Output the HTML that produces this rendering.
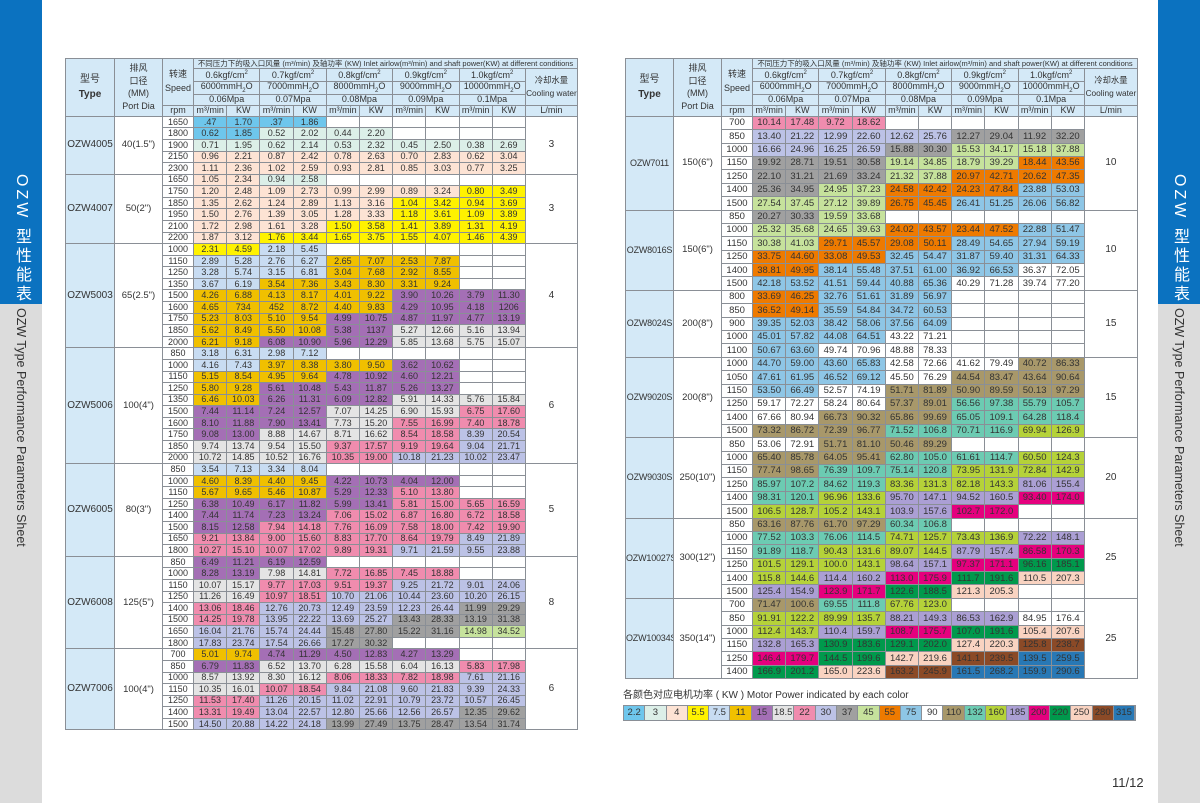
<!DOCTYPE html>
<html><head><meta charset="utf-8">
<style>
*{margin:0;padding:0;box-sizing:border-box}
body{width:1200px;height:803px;background:#fff;position:relative;overflow:hidden;font-family:"Liberation Sans","Noto Sans CJK SC",sans-serif;color:#333}
.band{position:absolute;top:0;width:42px;height:803px;background:#dcdcdc}
.band .blue{position:absolute;left:0;top:0;width:42px;height:304px;background:#0b72c0}
.vt1{position:absolute;left:0;width:42px;bottom:499px;writing-mode:vertical-rl;color:#fff;font-size:16px;line-height:42px;text-align:right;letter-spacing:3px}
.vt2{position:absolute;left:0;width:42px;top:308px;writing-mode:vertical-rl;color:#333;font-size:12.5px;line-height:42px}
table{position:absolute;border-collapse:collapse;table-layout:fixed;top:58px}
td{border:1px solid #8a8f96;text-align:center;vertical-align:middle;white-space:nowrap;overflow:hidden;padding:0;line-height:1}
.h{background:#d4e9f7;font-size:9px;color:#333}
.t{background:#d4e9f7;font-size:10px}
#R .t{font-size:9px;letter-spacing:-0.2px}
#L td.d{font-size:9px}
#R td.d{font-size:9.5px}
.cw{font-size:8.3px!important}
sup,sub{font-size:6px}
</style></head><body>
<div class="band" style="left:0"><div class="blue"></div><div class="vt1">OZW 型性能表</div><div class="vt2">OZW Type Performance Parameters Sheet</div></div>
<div class="band" style="left:1158px"><div class="blue"></div><div class="vt1">OZW 型性能表</div><div class="vt2">OZW Type Performance Parameters Sheet</div></div>
<table id="L" style="left:65px;width:512px"></table>
<table id="R" style="left:625px;width:512px"></table>
<div style="position:absolute;left:623px;top:686px;font-size:10px;color:#333">各颜色对应电机功率 ( KW ) Motor Power indicated by each color</div>
<div id="leg" style="position:absolute;left:623px;top:705px;height:16px;display:flex;border:1px solid #8a8f96"></div>
<div style="position:absolute;left:1112px;top:775px;font-size:13px;color:#333">11/12</div>
<script>
var C={a:'#6ec6ec',b:'#dcefe8',c:'#fde3d4',d:'#fff200',e:'#c8dcf2',f:'#f0c000',g:'#a46fb5',h:'#e4e4e4',i:'#f08cae',j:'#bcc2e6',k:'#a0a0a0',l:'#c6e29c',m:'#ee7a00',n:'#8ec6e6',o:'#ffffff',p:'#a8986a',q:'#6ccbb2',r:'#b5d239',s:'#ab9fd4',t:'#e5007e',u:'#00994c',v:'#f9d3c1',w:'#8b4a27',x:'#2878b5'};
var LG=[['2.2','a'],['3','b'],['4','c'],['5.5','d'],['7.5','e'],['11','f'],['15','g'],['18.5','h'],['22','i'],['30','j'],['37','k'],['45','l'],['55','m'],['75','n'],['90','o'],['110','p'],['132','q'],['160','r'],['185','s'],['200','t'],['220','u'],['250','v'],['280','w'],['315','x']];
var lg=document.getElementById('leg');
LG.forEach(function(z){var s=document.createElement('div');s.style.cssText='width:21.3px;height:14px;font-size:9.5px;line-height:14px;text-align:center;border-right:1px solid #8a8f96;background:'+C[z[1]];s.textContent=z[0];lg.appendChild(s);});
var Ld=[
['OZW4005','40(1.5")','3',['1650|a .47 1.70|a .37 1.86|-|-|-','1800|a 0.62 1.85|b 0.52 2.02|b 0.44 2.20|-|-','1900|b 0.71 1.95|b 0.62 2.14|b 0.53 2.32|b 0.45 2.50|b 0.38 2.69','2150|c 0.96 2.21|c 0.87 2.42|c 0.78 2.63|c 0.70 2.83|c 0.62 3.04','2300|c 1.11 2.36|c 1.02 2.59|c 0.93 2.81|c 0.85 3.03|c 0.77 3.25']],
['OZW4007','50(2")','3',['1650|c 1.05 2.34|b 0.94 2.58|-|-|-','1750|c 1.20 2.48|c 1.09 2.73|c 0.99 2.99|c 0.89 3.24|d 0.80 3.49','1850|c 1.35 2.62|c 1.24 2.89|c 1.13 3.16|d 1.04 3.42|d 0.94 3.69','1950|c 1.50 2.76|c 1.39 3.05|c 1.28 3.33|d 1.18 3.61|d 1.09 3.89','2100|c 1.72 2.98|c 1.61 3.28|d 1.50 3.58|d 1.41 3.89|d 1.31 4.19','2200|c 1.87 3.12|d 1.76 3.44|d 1.65 3.75|d 1.55 4.07|d 1.46 4.39']],
['OZW5003','65(2.5")','4',['1000|d 2.31 4.59|e 2.18 5.45|-|-|-','1150|e 2.89 5.28|e 2.76 6.27|f 2.65 7.07|f 2.53 7.87|-','1250|e 3.28 5.74|e 3.15 6.81|f 3.04 7.68|f 2.92 8.55|-','1350|e 3.67 6.19|f 3.54 7.36|f 3.43 8.30|f 3.31 9.24|-','1500|f 4.26 6.88|f 4.13 8.17|f 4.01 9.22|g 3.90 10.26|g 3.79 11.30','1600|f 4.65 734|f 452 8.72|f 4.40 9.83|g 4.29 10.95|g 4.18 1206','1750|f 5.23 8.03|f 5.10 9.54|g 4.99 10.75|g 4.87 11.97|g 4.77 13.19','1850|f 5.62 8.49|f 5.50 10.08|g 5.38 1137|h 5.27 12.66|h 5.16 13.94','2000|f 6.21 9.18|g 6.08 10.90|g 5.96 12.29|h 5.85 13.68|h 5.75 15.07']],
['OZW5006','100(4")','6',['850|e 3.18 6.31|e 2.98 7.12|-|-|-','1000|e 4.16 7.43|f 3.97 8.38|f 3.80 9.50|g 3.62 10.62|-','1150|f 5.15 8.54|f 4.95 9.64|g 4.78 10.92|g 4.60 12.21|-','1250|f 5.80 9.28|g 5.61 10.48|g 5.43 11.87|g 5.26 13.27|-','1350|f 6.46 10.03|g 6.26 11.31|g 6.09 12.82|h 5.91 14.33|h 5.76 15.84','1500|g 7.44 11.14|g 7.24 12.57|h 7.07 14.25|h 6.90 15.93|i 6.75 17.60','1600|g 8.10 11.88|g 7.90 13.41|h 7.73 15.20|i 7.55 16.99|i 7.40 18.78','1750|g 9.08 13.00|h 8.88 14.67|h 8.71 16.62|i 8.54 18.58|j 8.39 20.54','1850|h 9.74 13.74|h 9.54 15.50|i 9.37 17.57|i 9.19 19.64|j 9.04 21.71','2000|h 10.72 14.85|h 10.52 16.76|i 10.35 19.00|j 10.18 21.23|j 10.02 23.47']],
['OZW6005','80(3")','5',['850|e 3.54 7.13|e 3.34 8.04|-|-|-','1000|f 4.60 8.39|f 4.40 9.45|g 4.22 10.73|g 4.04 12.00|-','1150|f 5.67 9.65|f 5.46 10.87|g 5.29 12.33|i 5.10 13.80|-','1250|g 6.38 10.49|g 6.17 11.82|g 5.99 13.41|i 5.81 15.00|i 5.65 16.59','1400|g 7.44 11.74|g 7.23 13.24|i 7.06 15.02|i 6.87 16.80|i 6.72 18.58','1500|g 8.15 12.58|i 7.94 14.18|i 7.76 16.09|i 7.58 18.00|i 7.42 19.90','1650|i 9.21 13.84|i 9.00 15.60|i 8.83 17.70|i 8.64 19.79|j 8.49 21.89','1800|i 10.27 15.10|i 10.07 17.02|i 9.89 19.31|j 9.71 21.59|j 9.55 23.88']],
['OZW6008','125(5")','8',['850|g 6.49 11.21|g 6.19 12.59|-|-|-','1000|g 8.28 13.19|h 7.98 14.81|i 7.72 16.85|i 7.45 18.88|-','1150|h 10.07 15.17|i 9.77 17.03|i 9.51 19.37|j 9.25 21.72|j 9.01 24.06','1250|h 11.26 16.49|i 10.97 18.51|j 10.70 21.06|j 10.44 23.60|j 10.20 26.15','1400|i 13.06 18.46|j 12.76 20.73|j 12.49 23.59|j 12.23 26.44|k 11.99 29.29','1500|i 14.25 19.78|j 13.95 22.22|j 13.69 25.27|k 13.43 28.33|k 13.19 31.38','1650|j 16.04 21.76|j 15.74 24.44|k 15.48 27.80|k 15.22 31.16|l 14.98 34.52','1800|j 17.83 23.74|j 17.54 26.66|k 17.27 30.32|-|-']],
['OZW7006','100(4")','6',['700|f 5.01 9.74|g 4.74 11.29|g 4.50 12.83|g 4.27 13.29|-','850|g 6.79 11.83|h 6.52 13.70|h 6.28 15.58|h 6.04 16.13|i 5.83 17.98','1000|h 8.57 13.92|h 8.30 16.12|i 8.06 18.33|i 7.82 18.98|j 7.61 21.16','1150|h 10.35 16.01|i 10.07 18.54|j 9.84 21.08|j 9.60 21.83|j 9.39 24.33','1250|i 11.53 17.40|j 11.26 20.15|j 11.02 22.91|j 10.79 23.72|j 10.57 26.45','1400|i 13.31 19.49|j 13.04 22.57|j 12.80 25.66|j 12.56 26.57|k 12.35 29.62','1500|j 14.50 20.88|j 14.22 24.18|k 13.99 27.49|k 13.75 28.47|k 13.54 31.74']]
];
var Rd=[
['OZW7011','150(6")','10',['700|i 10.14 17.48|i 9.72 18.62|-|-|-','850|j 13.40 21.22|j 12.99 22.60|j 12.62 25.76|k 12.27 29.04|k 11.92 32.20','1000|j 16.66 24.96|j 16.25 26.59|k 15.88 30.30|l 15.53 34.17|l 15.18 37.88','1150|k 19.92 28.71|k 19.51 30.58|l 19.14 34.85|l 18.79 39.29|m 18.44 43.56','1250|k 22.10 31.21|k 21.69 33.24|l 21.32 37.88|m 20.97 42.71|m 20.62 47.35','1400|k 25.36 34.95|l 24.95 37.23|m 24.58 42.42|m 24.23 47.84|n 23.88 53.03','1500|l 27.54 37.45|l 27.12 39.89|m 26.75 45.45|n 26.41 51.25|n 26.06 56.82']],
['OZW8016S','150(6")','10',['850|k 20.27 30.33|l 19.59 33.68|-|-|-','1000|l 25.32 35.68|l 24.65 39.63|m 24.02 43.57|m 23.44 47.52|n 22.88 51.47','1150|l 30.38 41.03|m 29.71 45.57|m 29.08 50.11|n 28.49 54.65|n 27.94 59.19','1250|m 33.75 44.60|m 33.08 49.53|n 32.45 54.47|n 31.87 59.40|n 31.31 64.33','1400|m 38.81 49.95|n 38.14 55.48|n 37.51 61.00|n 36.92 66.53|o 36.37 72.05','1500|n 42.18 53.52|n 41.51 59.44|n 40.88 65.36|o 40.29 71.28|o 39.74 77.20']],
['OZW8024S','200(8")','15',['800|m 33.69 46.25|n 32.76 51.61|n 31.89 56.97|-|-','850|m 36.52 49.14|n 35.59 54.84|n 34.72 60.53|-|-','900|n 39.35 52.03|n 38.42 58.06|n 37.56 64.09|-|-','1000|n 45.01 57.82|n 44.08 64.51|o 43.22 71.21|-|-','1100|n 50.67 63.60|o 49.74 70.96|o 48.88 78.33|-|-']],
['OZW9020S','200(8")','15',['1000|n 44.70 59.00|n 43.60 65.83|o 42.58 72.66|o 41.62 79.49|p 40.72 86.33','1050|n 47.61 61.95|n 46.52 69.12|o 45.50 76.29|p 44.54 83.47|p 43.64 90.64','1150|n 53.50 66.49|o 52.57 74.19|p 51.71 81.89|p 50.90 89.59|p 50.13 97.29','1250|o 59.17 72.27|o 58.24 80.64|p 57.37 89.01|q 56.56 97.38|q 55.79 105.7','1400|o 67.66 80.94|p 66.73 90.32|p 65.86 99.69|q 65.05 109.1|q 64.28 118.4','1500|p 73.32 86.72|p 72.39 96.77|q 71.52 106.8|q 70.71 116.9|r 69.94 126.9']],
['OZW9030S','250(10")','20',['850|o 53.06 72.91|p 51.71 81.10|p 50.46 89.29|-|-','1000|p 65.40 85.78|p 64.05 95.41|q 62.80 105.0|q 61.61 114.7|r 60.50 124.3','1150|p 77.74 98.65|q 76.39 109.7|q 75.14 120.8|r 73.95 131.9|r 72.84 142.9','1250|q 85.97 107.2|q 84.62 119.3|r 83.36 131.3|r 82.18 143.3|s 81.06 155.4','1400|q 98.31 120.1|r 96.96 133.6|s 95.70 147.1|s 94.52 160.5|t 93.40 174.0','1500|r 106.5 128.7|r 105.2 143.1|s 103.9 157.6|t 102.7 172.0|-']],
['OZW10027S','300(12")','25',['850|p 63.16 87.76|p 61.70 97.29|q 60.34 106.8|-|-','1000|q 77.52 103.3|q 76.06 114.5|r 74.71 125.7|r 73.43 136.9|s 72.22 148.1','1150|q 91.89 118.7|r 90.43 131.6|r 89.07 144.5|s 87.79 157.4|t 86.58 170.3','1250|r 101.5 129.1|r 100.0 143.1|s 98.64 157.1|t 97.37 171.1|u 96.16 185.1','1400|r 115.8 144.6|s 114.4 160.2|t 113.0 175.9|u 111.7 191.6|v 110.5 207.3','1500|s 125.4 154.9|t 123.9 171.7|u 122.6 188.5|v 121.3 205.3|-']],
['OZW10034S','350(14")','25',['700|p 71.47 100.6|q 69.55 111.8|r 67.76 123.0|-|-','850|r 91.91 122.2|r 89.99 135.7|s 88.21 149.3|s 86.53 162.9|o 84.95 176.4','1000|r 112.4 143.7|s 110.4 159.7|t 108.7 175.7|u 107.0 191.6|v 105.4 207.6','1150|s 132.8 165.3|u 130.9 183.6|u 129.1 202.0|v 127.4 220.3|w 125.8 238.7','1250|t 146.4 179.7|u 144.5 199.6|v 142.7 219.6|w 141.1 239.5|x 139.5 259.5','1400|u 166.9 201.2|v 165.0 223.6|w 163.2 245.9|x 161.5 268.2|x 159.9 290.6']]
];
function build(id,data,cols,rh){
 var h='<colgroup>';cols.forEach(function(w){h+='<col style="width:'+w+'px">';});h+='</colgroup>';
 h+='<tr style="height:10px"><td class="h" rowspan="5" style="font-size:10px;line-height:1.5">型号<br><b>Type</b></td><td class="h" rowspan="5" style="line-height:1.4">排风<br>口径<br>(MM)<br>Port Dia</td><td class="h" rowspan="4" style="line-height:1.5">转速<br>Speed</td><td class="h" colspan="11" style="font-size:7.5px">不同压力下的吸入口风量 (m³/min) 及轴功率 (KW) Inlet airlow(m³/min) and shaft power(KW) at different conditions</td></tr>';
 var p=['0.6','0.7','0.8','0.9','1.0'],mm=['6000','7000','8000','9000','10000'],mp=['0.06','0.07','0.08','0.09','0.1'];
 h+='<tr style="height:13px">';p.forEach(function(x){h+='<td class="h" colspan="2">'+x+'kgf/cm<sup>2</sup></td>';});h+='<td class="h cw" rowspan="3" style="line-height:1.5">冷却水量<br>Cooling water</td></tr>';
 h+='<tr style="height:12px">';mm.forEach(function(x){h+='<td class="h" colspan="2">'+x+'mmH<sub>2</sub>O</td>';});h+='</tr>';
 h+='<tr style="height:11px">';mp.forEach(function(x){h+='<td class="h" colspan="2">'+x+'Mpa</td>';});h+='</tr>';
 h+='<tr style="height:11px"><td class="h">rpm</td>';for(var i=0;i<5;i++)h+='<td class="h">m³/min</td><td class="h">KW</td>';h+='<td class="h">L/min</td></tr>';
 data.forEach(function(g){var n=g[3].length;g[3].forEach(function(r,ri){var parts=r.split('|');h+='<tr style="height:'+rh+'px">';
  if(ri==0)h+='<td class="t" rowspan="'+n+'">'+g[0]+'</td><td class="d" rowspan="'+n+'" style="font-size:9.5px">'+g[1]+'</td>';
  h+='<td class="d">'+parts[0]+'</td>';
  for(var k=1;k<6;k++){var q=parts[k];if(q=='-'){h+='<td class="d"></td><td class="d"></td>';}else{var s=q.split(' ');var bg=C[s[0]];h+='<td class="d" style="background:'+bg+'">'+s[1]+'</td><td class="d" style="background:'+bg+'">'+s[2]+'</td>';}}
  if(ri==0)h+='<td class="d" rowspan="'+n+'" style="font-size:10px">'+g[2]+'</td>';
  h+='</tr>';});});
 document.getElementById(id).innerHTML=h;
}
var cw=[];for(var i=0;i<10;i++)cw.push(33.2);
build('L',Ld,[49,48,31].concat(cw,[52]),11.58);
build('R',Rd,[48,48,31].concat(cw,[53]),13.4);
</script>
</body></html>
